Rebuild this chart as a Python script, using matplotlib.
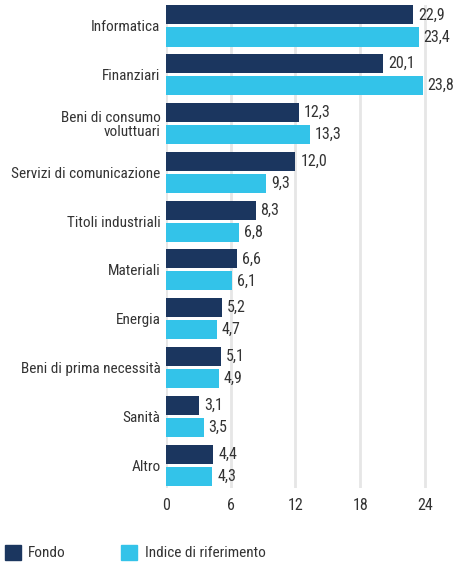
import matplotlib
matplotlib.use('Agg')
import matplotlib.pyplot as plt
import matplotlib.patches as mpatches
import numpy as np

categories = ['Informatica', 'Finanziari', 'Beni di consumo\nvoluttuari', 'Servizi di comunicazione',
              'Titoli industriali', 'Materiali', 'Energia', 'Beni di prima necessità', 'Sanità', 'Altro']
fondo = [22.9, 20.1, 12.3, 12.0, 8.3, 6.6, 5.2, 5.1, 3.1, 4.4]
indice = [23.4, 23.8, 13.3, 9.3, 6.8, 6.1, 4.7, 4.9, 3.5, 4.3]
xticks = [0, 6, 12, 18, 24]

navy = '#1b365f'
cyan = '#33c3e9'
txt = '#333333'
fs = 11

plt.rcParams['font.family'] = ['Roboto Condensed', 'Open Sans Condensed', 'DejaVu Sans']
plt.rcParams['font.stretch'] = 'condensed'

fig = plt.figure(figsize=(4.58, 5.65), dpi=100)
ax = fig.add_axes([166 / 458, 1 - 488 / 565, 1 - 166 / 458, (488 - 5) / 565])

y = np.arange(len(categories))
h = 0.39
off = 0.226
ax.barh(y - off, fondo, height=h, color=navy, zorder=3)
ax.barh(y + off, indice, height=h, color=cyan, zorder=3)

for i in range(len(categories)):
    ax.text(fondo[i] + 0.45, y[i] - off, f'{fondo[i]:.1f}'.replace('.', ','),
            va='center', ha='left', fontsize=fs + 0.5, color=txt)
    ax.text(indice[i] + 0.45, y[i] + off, f'{indice[i]:.1f}'.replace('.', ','),
            va='center', ha='left', fontsize=fs + 0.5, color=txt)

ax.set_xlim(0, 27.06)
ax.set_ylim(9.47, -0.43)
ax.set_xticks(xticks)
ax.set_xticklabels([str(t) for t in xticks], fontsize=fs + 0.5, color=txt)
ax.set_yticks(y)
ax.set_yticklabels(categories, fontsize=fs, color=txt, linespacing=0.95)
ax.tick_params(axis='y', length=0, pad=4)
ax.tick_params(axis='x', length=0, pad=7)
ax.grid(axis='x', color='#e6e6e6', linewidth=2, zorder=0)
for s in ax.spines.values():
    s.set_visible(False)

handles = [mpatches.Patch(color=navy, label='Fondo'),
           mpatches.Patch(color=cyan, label='Indice di riferimento')]
fig.legend(handles=handles, loc='lower left', bbox_to_anchor=(0.0, 0.0), ncol=2, frameon=False,
           fontsize=fs, handlelength=1.05, handleheight=1.1, handletextpad=0.5, columnspacing=3.6,
           labelcolor=txt, borderpad=0, borderaxespad=0.3)

fig.savefig('out.png', dpi=100)
